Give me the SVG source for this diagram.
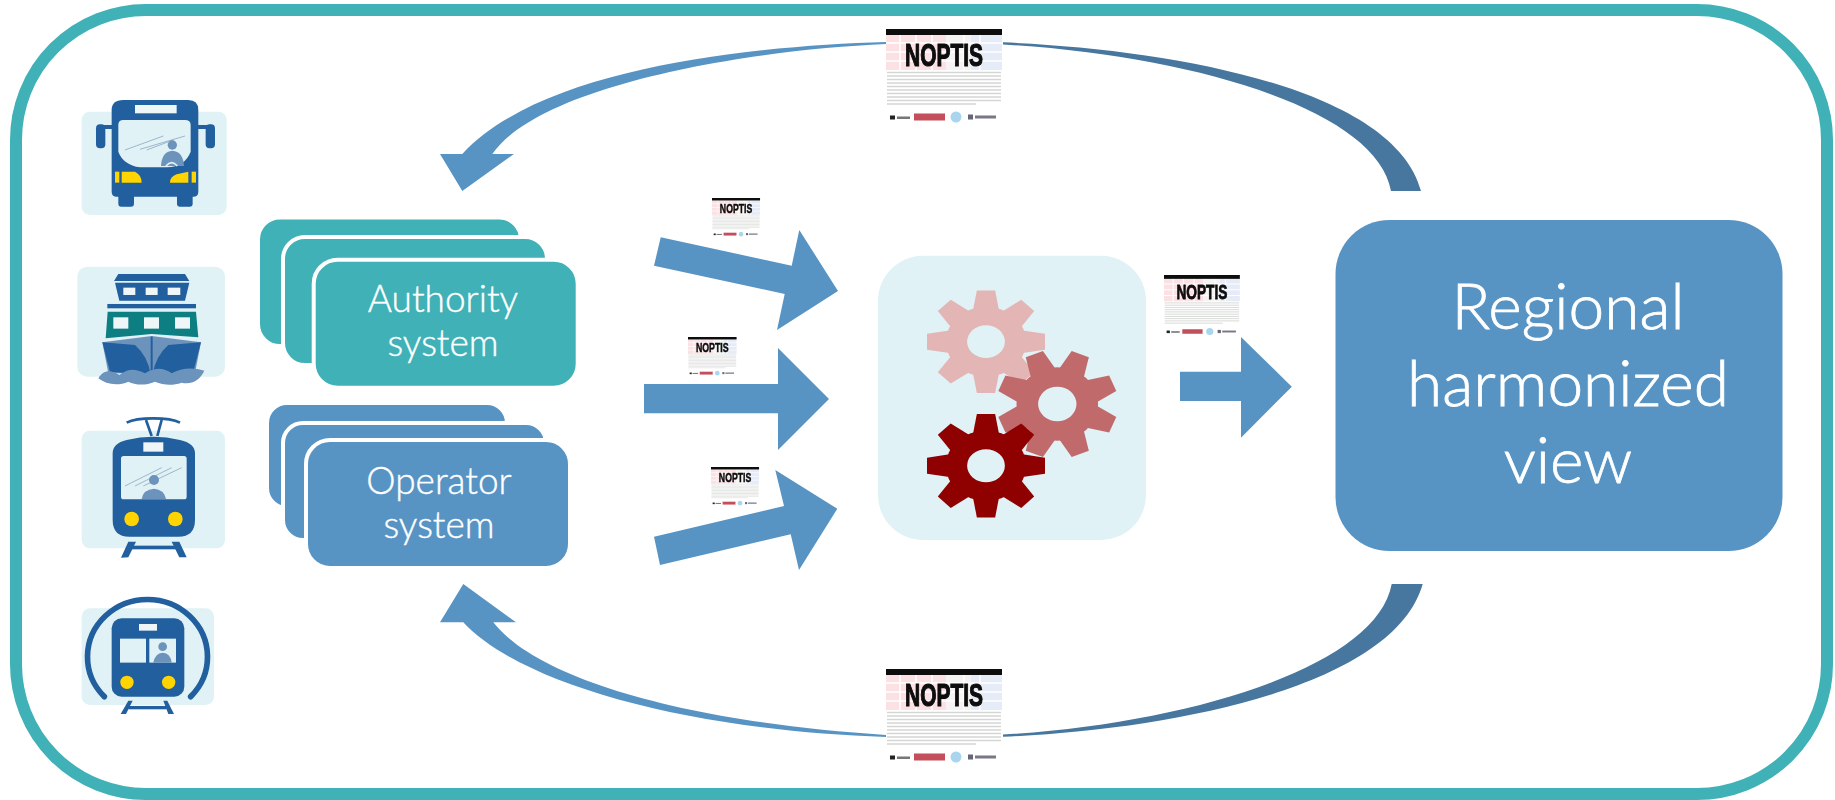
<svg xmlns="http://www.w3.org/2000/svg" width="1835" height="800" viewBox="0 0 1835 800">
<style>
.teal{fill:#3FB1B7;stroke:#fff;stroke-width:4}
.blue{fill:#5894C3;stroke:#fff;stroke-width:4}
.lbl{font-family:Lato,"Open Sans","Liberation Sans",sans-serif;font-weight:300;fill:#fff;stroke:#fff;text-anchor:middle}
.s{font-size:37px;stroke-width:.4}
.b{font-size:64px;stroke-width:.8}
.bg{fill:#E0F2F5}
.d{fill:#215E9E}
.st{fill:#6C93BC}
.y{fill:#FFD400}
.w{fill:#EEF6F8}
.wl{stroke:#8FA9C4;stroke-width:2.5;fill:none}
.ar{fill:#5894C3}
.dk{fill:#47779F}
</style>
<defs>
<filter id="soft" x="-5%" y="-5%" width="110%" height="110%"><feGaussianBlur stdDeviation="0.7"/></filter>
<filter id="soft2" x="-5%" y="-5%" width="110%" height="110%"><feGaussianBlur stdDeviation="0.6"/></filter>
<symbol id="thumb" viewBox="0 0 117 95" preserveAspectRatio="none">
<g filter="url(#soft2)">
<rect width="117" height="95" fill="#fff"/>
<rect y="6" width="60" height="35" fill="#FBE0E4"/>
<rect x="60" y="6" width="25" height="35" fill="#F6F4F2"/>
<rect x="85" y="6" width="31" height="35" fill="#E6EBF8"/>
<path d="M0 14H116M0 23H116M0 32H116M14 6V41M30 6V41M46 6V41M78 6V41M94 6V41" stroke="#fff" stroke-width="1.5" fill="none"/>
<rect width="116" height="6" fill="#0c0c0c"/>
<text x="58" y="37" font-family="Liberation Sans,sans-serif" font-weight="700" font-size="32" text-anchor="middle" textLength="78" lengthAdjust="spacingAndGlyphs" fill="#0a0a0a" stroke="#0a0a0a" stroke-width="1.2">NOPTIS</text>
<path d="M1 43.500H115M1 47H115M1 50.500H115M1 54H115M1 57.500H115M1 61H115M1 64.500H115M1 68H115M1 71.500H115M1 75H90" stroke="#d3d6d3" stroke-width="1.4" fill="none"/>
<rect x="4" y="86.500" width="5" height="4" fill="#222"/><rect x="11" y="87.500" width="13" height="2.500" fill="#777"/>
<rect x="28" y="84.500" width="31" height="7" fill="#C2505A"/>
<circle cx="70" cy="88" r="5.500" fill="#A9D6EE"/>
<rect x="82" y="85.500" width="5" height="5" fill="#667"/><rect x="89" y="86.500" width="21" height="3" fill="#778"/>
</g>
</symbol>
<polygon id="tooth" points="0.62,-0.22 1,-0.155 1,0.155 0.62,0.22"/>
<g id="gear">
<path fill-rule="evenodd" d="M-0.68 0A0.68 0.68 0 1 1 0.68 0A0.68 0.68 0 1 1 -0.68 0ZM-0.32 0A0.32 0.32 0 1 0 0.32 0A0.32 0.32 0 1 0 -0.32 0Z"/>
<use href="#tooth"/><use href="#tooth" transform="rotate(45)"/><use href="#tooth" transform="rotate(90)"/><use href="#tooth" transform="rotate(135)"/><use href="#tooth" transform="rotate(180)"/><use href="#tooth" transform="rotate(225)"/><use href="#tooth" transform="rotate(270)"/><use href="#tooth" transform="rotate(315)"/>
</g>
</defs>
<rect width="1835" height="800" fill="#fff"/>
<rect id="frame" x="16" y="10" width="1811" height="784" rx="130" ry="130" fill="none" stroke="#3FB1B7" stroke-width="12"/>

<g id="bus" transform="translate(60,80) scale(0.3333)" filter="url(#soft)">
<rect class="bg" x="65" y="95" width="435" height="310" rx="25"/>
<rect class="d" x="108" y="133" width="28" height="72" rx="12"/><rect class="d" x="437" y="133" width="28" height="72" rx="12"/>
<rect class="d" x="125" y="135" width="35" height="12"/><rect class="d" x="410" y="135" width="35" height="12"/>
<rect class="d" x="175" y="335" width="47" height="45" rx="9"/><rect class="d" x="351" y="335" width="47" height="45" rx="9"/>
<path class="d" d="M190,60H385Q415,60 415,90V335Q415,350 400,350H170Q155,350 155,335V90Q155,60 190,60Z"/>
<rect class="w" x="225" y="75" width="125" height="25"/>
<path class="bg" d="M190,120H375Q392,120 392,135V215Q375,260 320,262H240Q190,255 175,215V135Q175,120 190,120Z"/>
<path class="wl" d="M195,210L310,168M240,208L375,168M260,210L340,180"/>
<circle class="st" cx="337" cy="195" r="14"/>
<path class="st" d="M303,258Q305,215 337,212Q370,215 372,258Z"/>
<path d="M318,258Q335,238 352,258" fill="none" stroke="#E0F2F5" stroke-width="5"/>
<rect class="y" x="165" y="275" width="13" height="33"/><rect class="y" x="395" y="275" width="13" height="33"/>
<path class="y" d="M185,275H225Q245,285 245,308H185Z"/><path class="y" d="M385,275V308H330Q330,290 350,283Z"/>
</g>

<g id="ship" transform="translate(60,80) scale(0.3333)" filter="url(#soft)">
<rect class="bg" x="52" y="560" width="443" height="330" rx="30"/>
<polygon class="d" points="175,582 375,582 388,603 162,603"/>
<polygon class="d" points="165,608 388,608 375,662 178,662"/>
<rect class="w" x="190" y="623" width="36" height="22"/><rect class="w" x="257" y="623" width="36" height="22"/><rect class="w" x="323" y="623" width="38" height="22"/>
<rect class="d" x="142" y="672" width="266" height="13"/>
<polygon fill="#0F7F82" points="143,695 408,695 415,772 275,762 137,775"/>
<rect class="w" x="160" y="712" width="45" height="34"/><rect class="w" x="252" y="712" width="45" height="34"/><rect class="w" x="345" y="712" width="45" height="34"/>
<path class="st" d="M127,787L275,768L423,787L405,880H145Z"/>
<path class="d" d="M127,787L225,795Q265,830 272,885L150,875Z"/>
<path class="d" d="M423,787L325,795Q285,830 278,885L400,875Z"/>
<path class="d" d="M272,770H278V885H272Z"/>
<path class="st" d="M115,895C130,870 150,868 178,885C205,865 225,865 255,880C285,862 310,862 335,880C365,862 400,862 433,872C420,900 395,915 365,908C335,918 310,915 285,905C255,918 225,915 205,905C175,918 140,915 115,895Z"/>
</g>

<g id="tram" transform="translate(60,400) scale(0.3333)" filter="url(#soft)">
<rect class="bg" x="65" y="92" width="430" height="353" rx="25"/>
<path d="M200,68Q225,55 280,55Q335,55 360,68M258,60L275,108M305,60L292,108" fill="none" stroke="#215E9E" stroke-width="8"/>
<path class="d" d="M158,160Q158,130 200,120Q280,100 360,120Q405,130 405,160V360Q405,410 355,410H208Q158,410 158,360Z"/>
<rect class="w" x="250" y="127" width="60" height="28"/>
<rect class="bg" x="183" y="168" width="197" height="130" rx="8"/>
<path class="wl" d="M195,258L305,203M225,258L335,203M250,258L365,203"/>
<circle class="st" cx="282" cy="240" r="15"/>
<path class="st" d="M245,297Q250,268 282,266Q312,268 318,297Z"/>
<circle class="y" cx="215" cy="357" r="22"/><circle class="y" cx="346" cy="357" r="22"/>
<polygon class="d" points="205,425 228,425 205,472 183,473"/><polygon class="d" points="335,425 358,425 380,472 358,472"/>
<rect class="d" x="212" y="437" width="136" height="11"/>
</g>

<g id="metro" transform="translate(60,400) scale(0.3333)" filter="url(#soft)">
<rect class="bg" x="65" y="625" width="397" height="290" rx="25"/>
<path d="M133,890A180,172 0 1 1 392,890" fill="none" stroke="#215E9E" stroke-width="17" stroke-linecap="round"/>
<rect class="d" x="155" y="655" width="218" height="235" rx="30"/>
<rect class="w" x="237" y="672" width="54" height="20"/>
<rect class="bg" x="180" y="716" width="78" height="72"/><rect class="bg" x="268" y="716" width="80" height="72"/>
<circle class="st" cx="308" cy="740" r="13"/>
<path class="st" d="M280,788Q285,760 308,758Q332,760 335,788Z"/>
<circle class="y" cx="201" cy="847" r="20"/><circle class="y" cx="326" cy="847" r="20"/>
<polygon class="d" points="205,902 218,902 198,942 182,942"/><polygon class="d" points="310,902 322,902 342,942 325,942"/>
<rect class="d" x="205" y="918" width="115" height="10"/>
</g>

<g id="authority-system">
<rect class="teal" x="258" y="217.500" width="263" height="128.500" rx="22"/>
<rect class="teal" x="283" y="237" width="264" height="128" rx="22"/>
<rect class="teal" x="313.700" y="259.700" width="264" height="128" rx="24"/>
<text class="lbl s" x="443" y="311.700">Authority</text>
<text class="lbl s" x="443" y="356">system</text>
</g>
<g id="operator-system">
<rect class="blue" x="267" y="403" width="240" height="105" rx="20"/>
<rect class="blue" x="283" y="423" width="263" height="117" rx="20"/>
<rect class="blue" x="306" y="440" width="264" height="128" rx="24"/>
<text class="lbl s" x="439" y="494">Operator</text>
<text class="lbl s" x="439" y="538">system</text>
</g>

<g id="connectors">
<path class="ar" d="M886,42C746.700,46 540,69 462.300,154H440L462.300,191L514,154H492.300C540,85 746.700,50 886,44Z"/>
<path class="dk" d="M1003,42.300C1166.700,49 1393.300,86.700 1421,191H1391C1376.700,108 1186.700,55 1003,44.500Z"/>
<path class="ar" d="M886,737C696.700,731 523.300,686.700 463.300,622.300H440L463.300,584L516,622.300H493.300C540,682 696.700,723 886,735Z"/>
<path class="dk" d="M1003,736.800C1166.700,730 1393.300,688.300 1422.700,584H1391.700C1376.700,667 1186.700,724 1003,734.500Z"/>
<polygon class="ar" points="660.700,237.300 791.700,265.700 799.300,230 838,291 777,330 784.700,294 654,265.700"/>
<polygon class="ar" points="644,384 778,384 778,348 829,399 778,450 778,413.300 644,413.300"/>
<polygon class="ar" points="654,536.700 784,506 775.300,470 837.300,508.700 799,570 790.700,534.300 660,565"/>
<polygon class="ar" points="1180,371.700 1241,371.700 1241,337 1291.800,386.700 1241,437.700 1241,401 1180,401"/>
</g>

<g id="processing">
<rect class="bg" x="878" y="255.700" width="268" height="284.300" rx="45"/>
<use href="#gear" fill="#E3B5B5" transform="translate(986,341.700) scale(59,51.300)"/>
<use href="#gear" fill="#C06A6C" transform="translate(1057.300,404) scale(60,54) rotate(22.500)"/>
<use href="#gear" fill="#8F0000" transform="translate(986,465.700) scale(59,51.700)"/>
</g>

<g id="regional-view">
<rect x="1335.500" y="220" width="447" height="331" rx="54" fill="#5894C3"/>
<text class="lbl b" x="1568" y="329">Regional</text>
<text class="lbl b" x="1568" y="406">harmonized</text>
<text class="lbl b" x="1568" y="482.700">view</text>
</g>

<g id="documents">
<use href="#thumb" x="886" y="29" width="117" height="95"/>
<use href="#thumb" x="886" y="669" width="117" height="95"/>
<use href="#thumb" x="712" y="198" width="48.500" height="39"/>
<use href="#thumb" x="688" y="337" width="49" height="39"/>
<use href="#thumb" x="711" y="467" width="48.500" height="39"/>
<use href="#thumb" x="1164" y="275" width="76.500" height="61"/>
</g>
</svg>
